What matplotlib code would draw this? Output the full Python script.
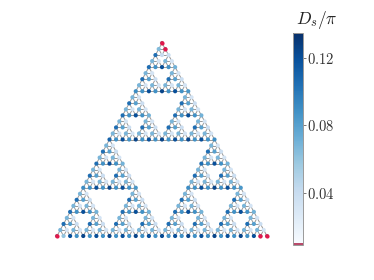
import numpy as np
import matplotlib
matplotlib.use('Agg')
import matplotlib.pyplot as plt
from matplotlib.collections import LineCollection

plt.rcParams['mathtext.fontset'] = 'cm'
plt.rcParams['font.family'] = 'serif'

GEN = 5
vmin, vmax = 0.0098, 0.1348

# D_s/pi estimated per generation (1 = largest triangle ... 5 = smallest) and edge type
val_bottom = [0.122, 0.125, 0.125, 0.120, 0.088]
val_bottom_short = 0.080
val_left = [0.110, 0.090, 0.105, 0.105, 0.068]
val_right = [0.090, 0.085, 0.070, 0.038, 0.032]
val_corner = 0.0
red_nodes = [(31, 0), (1, 31)]
light_nodes = [(1, 0), (1, 30), (0, 31)]
light_vals = [0.060, 0.040, 0.065]

nodes = {}
segs = []


def build(a, b, c, level):
    if level > GEN:
        segs.extend([(a, b), (b, c), (c, a)])
        return
    mid = lambda p, q: ((p[0]+q[0])//2, (p[1]+q[1])//2)
    ab, ac, bc = mid(a, b), mid(a, c), mid(b, c)
    nodes[ab] = val_bottom[level-1]
    if level == GEN and ab[1] % 4 == 2:
        nodes[ab] = val_bottom_short
    nodes[ac] = val_left[level-1]
    nodes[bc] = val_right[level-1]
    build(a, ab, ac, level+1)
    build(ab, b, bc, level+1)
    build(ac, bc, c, level+1)


A, B, C = (0, 0), (2**GEN, 0), (0, 2**GEN)
for p in (A, B, C):
    nodes[p] = val_corner
build(A, B, C, 1)
for p in red_nodes:
    nodes[p] = val_corner
for p, v in zip(light_nodes, light_vals):
    nodes[p] = v


def xy(p):
    return p[0] + p[1]/2, p[1]*np.sqrt(3)/2


cmap = plt.get_cmap('Blues').copy()
cmap.set_under('#b84a6a')

fig = plt.figure(figsize=(3.74, 2.8), dpi=100)
ax = fig.add_axes([57/374, (280-236)/280, 210/374, 193/280])
ax.set_xlim(0, 2**GEN)
ax.set_ylim(0, 2**GEN*np.sqrt(3)/2)
ax.axis('off')

ax.add_collection(LineCollection([(xy(p), xy(q)) for p, q in segs], colors='#999999', linewidths=0.7, zorder=1))
pts = np.array([xy(p) for p in nodes])
sc = ax.scatter(pts[:, 0], pts[:, 1], c=list(nodes.values()), s=9, cmap=cmap, vmin=vmin, vmax=vmax,
                linewidths=0, zorder=2, clip_on=False)
# red corner nodes use the brighter colour of the reference
reds = [p for p, v in nodes.items() if v == val_corner]
red_pts = np.array([xy(p) for p in reds])
ax.scatter(red_pts[:, 0], red_pts[:, 1], color='#e0184c', s=9, linewidths=0, zorder=3, clip_on=False)

cax = fig.add_axes([293/374, (280-245)/280, 10/374, 212/280])
cb = fig.colorbar(sc, cax=cax, extend='min', extendfrac=0.008, extendrect=True)
cb.set_ticks([0.04, 0.08, 0.12])
cb.set_ticklabels(['$0.04$', '$0.08$', '$0.12$'])
cb.ax.tick_params(labelsize=10.5, length=2, width=0.5, pad=1, color='#444444', labelcolor='#333333')
cb.outline.set_edgecolor('#999999')
cb.outline.set_linewidth(0.7)
fig.text(317/374, (280-20)/280, r'$D_s/\pi$', fontsize=12.5, ha='center', va='center', color='#222222')

fig.savefig('out.png', dpi=100)
